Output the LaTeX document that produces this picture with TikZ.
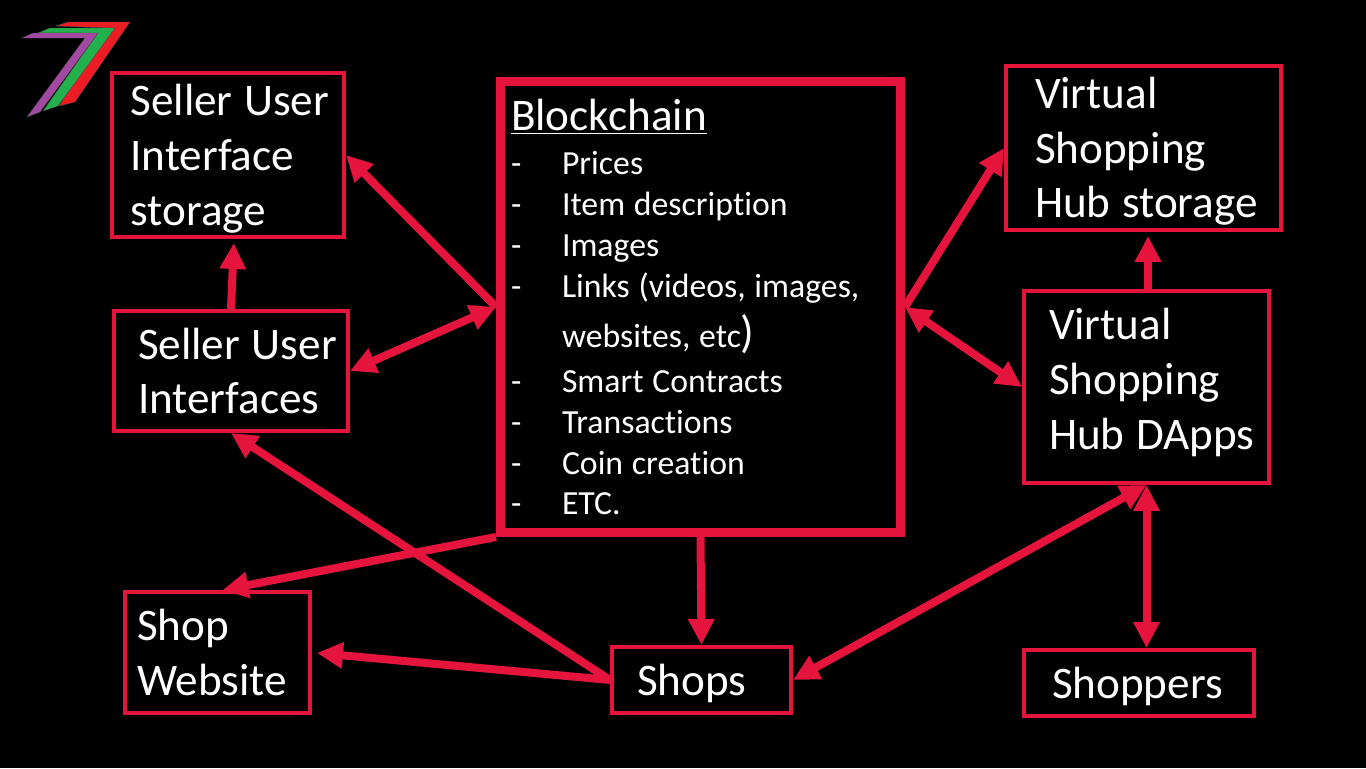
\documentclass[tikz,border=0pt]{standalone}
\usepackage{fontspec}
\setmainfont[Ligatures=NoCommon]{Carlito}
\usetikzlibrary{arrows.meta}
\definecolor{linkred}{RGB}{228,20,60}
\definecolor{logored}{RGB}{237,28,36}
\definecolor{logogreen}{RGB}{34,177,76}
\definecolor{logopurple}{RGB}{163,73,164}
\newcommand{\boxfont}[2]{\fontsize{#1}{#2}\selectfont}
\newcommand{\chainitem}[1]{\makebox[1.02cm][l]{-}#1}

\begin{document}
\begin{tikzpicture}[
  x=0.02cm, y=-0.02cm,
  box/.style={draw=linkred,line width=0.08cm,text=white,inner xsep=0pt,inner ysep=0pt,
              align=left,font=\boxfont{25.7}{31.2}},
  sized/.style n args={3}{text width=#1cm,minimum height=#2cm,
              execute at begin node={\leftskip=#3cm\relax\spaceskip=0.26em\relax}},
  logo/.style={draw=black!70,line width=0.2pt},
  arr/.style={-{Triangle[length=0.52cm,width=0.5cm]},draw=linkred,line width=0.16cm},
  dbl/.style={{Triangle[length=0.52cm,width=0.5cm]}-{Triangle[length=0.52cm,width=0.5cm]},
              draw=linkred,line width=0.16cm}
]
  \fill[black] (0,0) rectangle (1366,768);

  % Logo
  \draw[logo,fill=logored] (56,26)--(68,22)--(130,22)--(75,102)--(59,106)--(110,28)--cycle;
  \draw[logo,fill=logogreen] (38,33)--(50,28)--(115,28)--(58,106)--(43,111)--(98,33)--cycle;
  \draw[logo,fill=logopurple] (22,38)--(33,33)--(98,33)--(40,112)--(27,117)--(85,38)--cycle;

  % Boxes
  \node[box,sized={4.64}{3.28}{0.37}] (sellerstore) at (228,155) {\rule{0pt}{0.78cm}Seller User\\Interface\\storage};
  \node[box,sized={4.68}{2.40}{0.48}] (sellerui) at (231,371) {Seller User\\Interfaces};
  \node[box,sized={5.50}{3.28}{0.58}] (hubstore) at (1143.5,148) {\rule{0pt}{0.76cm}Virtual\\Shopping\\Hub storage};
  \node[box,sized={4.90}{3.84}{0.50}] (hub) at (1146.5,387) {Virtual\\Shopping\\Hub DApps\rule[-0.33cm]{0pt}{0.33cm}};
  \node[box,sized={3.70}{2.42}{0.24}] (website) at (217.5,652.5) {Shop\\Website};
  \node[box,sized={3.58}{1.32}{0.50}] (shops) at (701.5,680) {\rule{0pt}{0.78cm}Shops};
  \node[box,sized={4.60}{1.32}{0.56}] (shoppers) at (1139,683) {\rule{0pt}{0.76cm}Shoppers};

  % Blockchain
  \node[box,line width=0.18cm,sized={8.0}{9.02}{0.21},font=\boxfont{19.2}{23.2}] (chain) at (700.5,307) {%
    {\boxfont{25.7}{27}\underline{Blockchain}}\\[0.08cm]
    \chainitem{Prices}\\
    \chainitem{Item description}\\
    \chainitem{Images}\\
    \chainitem{Links (videos, images,}\\[0.2cm]
    \hspace*{1.02cm}websites, etc{\fontsize{25.7}{23.2}\selectfont)}\\[0.08cm]
    \chainitem{Smart Contracts}\\
    \chainitem{Transactions}\\
    \chainitem{Coin creation}\\
    \chainitem{ETC.}};

  % Connectors
  \draw[arr] (chain.west) -- (sellerstore.east);
  \draw[dbl] (chain.west) -- (sellerui.east);
  \draw[arr,shorten >=0.08cm] (sellerui.north) -- ([xshift=0.12cm]sellerstore.south);
  \draw[arr] (chain.east) -- (hubstore.west);
  \draw[dbl] (chain.east) -- (hub.west);
  \draw[arr,shorten >=0.08cm] ([xshift=0.03cm]hub.north) -- ([xshift=0.03cm]hub.north |- hubstore.south);
  \draw[arr] (chain.south west) -- ([xshift=0.1cm]website.north);
  \draw[arr] (chain.south) -- (shops.north);
  \draw[arr] (shops.west) -- (sellerui.south);
  \draw[arr,shorten >=0.1cm] (shops.west) -- (website.east);
  \draw[dbl] (shops.east) -- (hub.south);
  \draw[dbl] (hub.south) -- (hub.south |- shoppers.north);
\end{tikzpicture}
\end{document}
